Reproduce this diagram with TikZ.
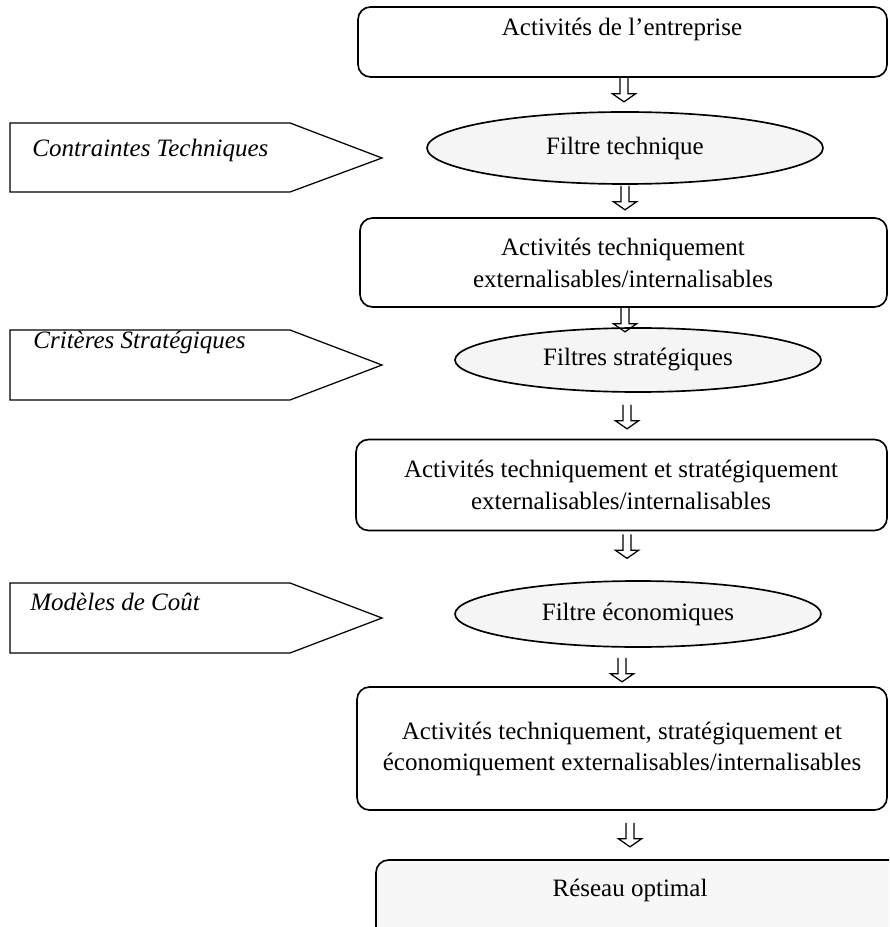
\documentclass[tikz,border=0pt]{standalone}
\usepackage{fontspec}
\setmainfont{Liberation Serif}
\usetikzlibrary{calc,shapes.geometric}
\newcommand{\pxu}{0.48pt}
\tikzset{
actbox/.style={draw,line width=0.8pt,rounded corners=6pt,inner sep=0pt},
filterell/.style={draw,ellipse,line width=0.8pt,fill=black!4,inner sep=0pt,font=\fontsize{12}{15}\selectfont},
boxtext/.style={align=center,inner sep=0pt,font=\fontsize{12}{15}\selectfont},
tagtext/.style={anchor=west,inner sep=0pt,font=\fontsize{12}{15}\selectfont\itshape},
tagline/.style={line width=0.6pt},
hollow/.style={line width=0.6pt,line join=miter}
}
% hollow down arrow under a node: node, gap, x shift
\newcommand{\hollowarrow}[3]{%
\draw[hollow] ($(#1.south)+(#3-4,#2)$) -- ++(0,16) -- ++(-7.5,0) -- ++(11.5,8) -- ++(11.5,-8) -- ++(-7.5,0) -- ++(0,-16);}

\begin{document}
\begin{tikzpicture}[x=\pxu,y=-\pxu]
\clip (0,0) rectangle (889,927);

% side constraints
\draw[tagline] (10,123) -- (290,123) -- (382,158) -- (290,192) -- (10,192) -- cycle;
\node[tagtext] (ctech) at (32,150) {Contraintes Techniques};
\draw[tagline] (10,330) -- (290,330) -- (382,365) -- (290,400) -- (10,400) -- cycle;
\node[tagtext] (cstrat) at (33,342) {Critères Stratégiques};
\draw[tagline] (10,583) -- (290,583) -- (382,618) -- (290,653) -- (10,653) -- cycle;
\node[tagtext] (mcout) at (30,602) {Modèles de Coût};

% main chain
\node[actbox,minimum width=529*\pxu,minimum height=70*\pxu] (act) at (622.5,42) {};
\node[boxtext] (acttxt) at (622,29) {Activités de l’entreprise};
\node[filterell,minimum width=396*\pxu,minimum height=72*\pxu] (ftech) at (625,148) {Filtre technique};
\node[actbox,minimum width=527*\pxu,minimum height=89*\pxu] (acttech) at (623.5,262.5) {};
\node[boxtext] (acttechtxt) at (623,263) {Activités techniquement\\externalisables/internalisables};
\node[filterell,minimum width=366*\pxu,minimum height=64*\pxu] (fstrat) at (638,360) {Filtres stratégiques};
\node[actbox,minimum width=531*\pxu,minimum height=91*\pxu] (actstrat) at (621.5,485) {};
\node[boxtext] (actstrattxt) at (621,485) {Activités techniquement et stratégiquement\\externalisables/internalisables};
\node[filterell,minimum width=366*\pxu,minimum height=66*\pxu] (feco) at (638,614) {Filtre économiques};
\node[actbox,minimum width=530*\pxu,minimum height=123*\pxu] (acteco) at (622,748.5) {};
\node[boxtext] (actecotxt) at (622,749) {Activités techniquement, stratégiquement et\\économiquement externalisables/internalisables};
\node[actbox,fill=black!3,minimum width=548*\pxu,minimum height=100*\pxu] (reseau) at (650,910) {};
\node[boxtext] (reseautxt) at (630,890) {Réseau optimal};

\hollowarrow{act}{0}{1.5}
\hollowarrow{ftech}{1}{0}
\hollowarrow{acttech}{0}{1.5}
\hollowarrow{fstrat}{12}{-11}
\hollowarrow{actstrat}{3}{5.5}
\hollowarrow{feco}{10}{-16}
\hollowarrow{acteco}{12}{8}
\end{tikzpicture}
\end{document}
